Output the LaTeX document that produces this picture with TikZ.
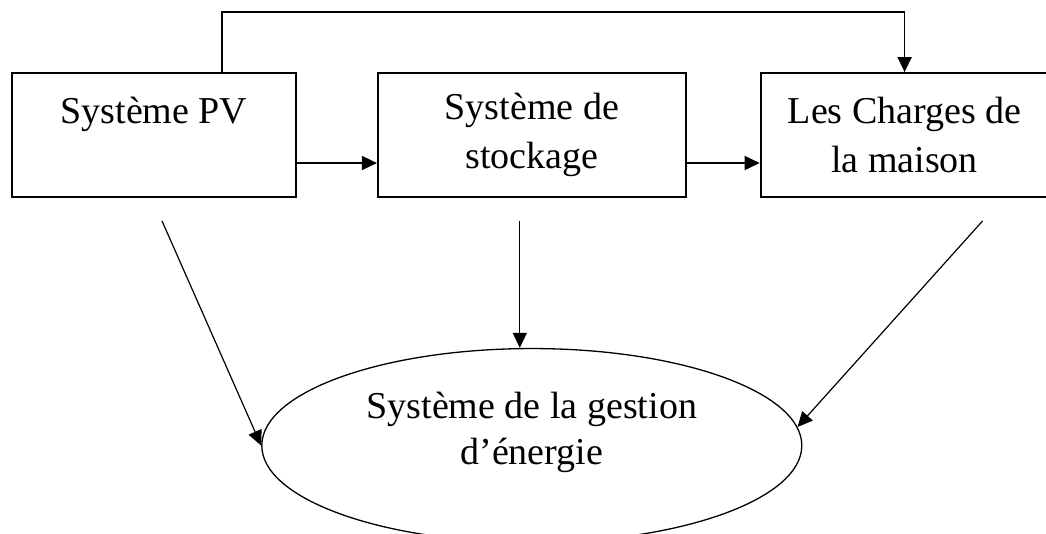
\documentclass[tikz,border=0pt]{standalone}
\usepackage{fontspec}
\setmainfont{Liberation Serif}
\usepackage{tikz}
\usetikzlibrary{arrows.meta, positioning, shapes.geometric}

\begin{document}
\begin{tikzpicture}[x=1pt, y=1pt,
    bloc/.style={draw, line width=1.8pt, align=center, minimum height=124pt, inner sep=0pt},
    fleche/.style={-{Triangle[length=15pt, width=14pt]}, line width=1.6pt},
    lien/.style={-{Triangle[length=15pt, width=14pt]}, line width=1.2pt}]
\useasboundingbox (0,0) rectangle (1046,-533);
\fontsize{38}{49}\selectfont

\node (pv) [bloc, minimum width=284pt] at (154,-135) {Système PV\\ \mbox{}};
\node (sto) [bloc, minimum width=308pt, right=80pt of pv] {Système de\\ stockage};
\node (chg) [bloc, minimum width=288pt, right=73pt of sto] {Les Charges de\\ la maison};
\node (ges) [draw, ellipse, line width=1.3pt, minimum width=540pt, minimum height=194pt,
    below=150pt of sto] {};
\node (gestxt) [align=center, font=\fontsize{38}{46}\selectfont] at ([yshift=13pt]ges.center)
    {Système de la gestion\\ d’énergie};

% liaisons entre blocs
\draw[fleche] ([yshift=-28pt]pv.east) -- ([yshift=-28pt]sto.west);
\draw[fleche] ([yshift=-28pt]sto.east) -- ([yshift=-28pt]chg.west);
\draw[fleche] ([xshift=68pt]pv.north) -- ++(0,60) -| (chg.north);

% vers la gestion
\coordinate (pvout) at ([xshift=8pt, yshift=-23pt]pv.south);
\coordinate (stoout) at ([xshift=-12pt, yshift=-23pt]sto.south);
\coordinate (chgout) at ([xshift=78pt, yshift=-23pt]chg.south);
\draw[lien] (pvout) -- (ges.west);
\draw[lien] (stoout) -- ([xshift=-12pt]ges.north);
\draw[lien] (chgout) -- (ges.4);
\end{tikzpicture}
\end{document}
